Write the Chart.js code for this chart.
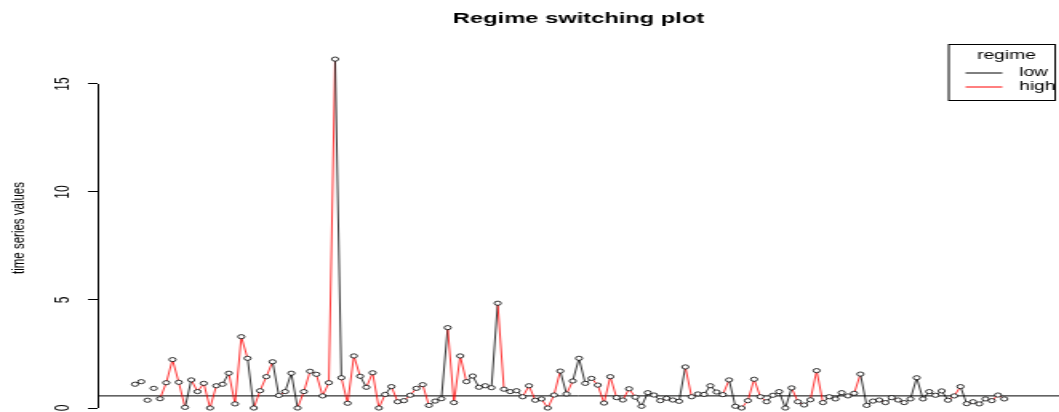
<!DOCTYPE html>
<html>
<head>
<meta charset="utf-8">
<script src="https://cdn.jsdelivr.net/npm/chart.js@4/dist/chart.umd.min.js"></script>
<style>
  html, body { margin: 0; padding: 0; background: #fff; overflow: hidden; }
  /* the plot is drawn on a narrower canvas and stretched horizontally */
  #wrap { width: 662px; height: 412px; transform: scaleX(1.6); transform-origin: 0 0; }
  canvas { display: block; }
</style>
</head>
<body>
<div id="wrap"><canvas id="c" width="662" height="412"></canvas></div>
<script>
// observed series (index 1..140)
const values = [
  1.10, 1.22, 0.36, 0.91, 0.43, 1.17, 2.24, 1.19, 0.03, 1.30,
  0.76, 1.14, 0.00, 1.03, 1.10, 1.61, 0.19, 3.30, 2.30, 0.00,
  0.80, 1.45, 2.14, 0.58, 0.76, 1.61, 0.00, 0.76, 1.70, 1.56,
  0.56, 1.17, 16.15, 1.40, 0.22, 2.41, 1.47, 0.96, 1.63, 0.00,
  0.63, 0.99, 0.29, 0.34, 0.59, 0.91, 1.08, 0.12, 0.32, 0.43,
  3.72, 0.25, 2.41, 1.22, 1.48, 0.96, 1.03, 0.94, 4.85, 0.87,
  0.76, 0.80, 0.52, 1.03, 0.36, 0.42, 0.00, 0.60, 1.71, 0.65,
  1.25, 2.30, 1.14, 1.37, 1.06, 0.23, 1.45, 0.48, 0.37, 0.89,
  0.50, 0.08, 0.71, 0.60, 0.34, 0.45, 0.37, 0.31, 1.90, 0.52,
  0.65, 0.63, 1.03, 0.74, 0.62, 1.30, 0.08, 0.00, 0.34, 1.33,
  0.52, 0.29, 0.59, 0.76, 0.00, 0.93, 0.29, 0.14, 0.38, 1.73,
  0.25, 0.52, 0.42, 0.71, 0.56, 0.68, 1.57, 0.12, 0.32, 0.37,
  0.25, 0.48, 0.37, 0.25, 0.42, 1.40, 0.42, 0.76, 0.59, 0.79,
  0.36, 0.56, 0.99, 0.20, 0.29, 0.19, 0.42, 0.34, 0.60, 0.42
];

// regime of the step that arrives at each observation (L = low, H = high, null = no step drawn)
const regime = [
  null, null, null, null, null, 'H', 'H', 'H', 'H', 'L',
  'H', 'H', 'H', 'H', 'H', 'L', 'H', 'H', 'H', 'L',
  'H', 'H', 'H', 'L', 'H', 'L', 'L', 'H', 'H', 'H',
  'H', 'H', 'H', 'L', 'H', 'H', 'H', 'L', 'H', 'H',
  'H', 'L', 'H', 'H', 'H', 'H', 'H', 'H', 'L', 'L',
  'L', 'H', 'H', 'H', 'L', 'L', 'L', 'H', 'L', 'H',
  'L', 'L', 'L', 'H', 'H', 'L', 'H', 'H', 'H', 'L',
  'H', 'L', 'L', 'L', 'H', 'H', 'H', 'H', 'L', 'H',
  'H', 'L', 'L', 'L', 'L', 'H', 'H', 'L', 'L', 'H',
  'H', 'L', 'L', 'L', 'L', 'H', 'L', 'L', 'H', 'H',
  'H', 'H', 'L', 'L', 'L', 'L', 'H', 'H', 'L', 'H',
  'H', 'L', 'L', 'L', 'L', 'H', 'H', 'L', 'L', 'L',
  'H', 'L', 'H', 'H', 'L', 'L', 'L', 'L', 'L', 'L',
  'L', 'H', 'H', 'L', 'H', 'L', 'L', 'H', 'H', 'H'
];

const regimeNames = ['low', 'high'];
const regimeColors = { L: '#000000', H: '#ff0000' };
const yTicks = [0, 5, 10, 15];
const refLevel = 0.56;

const FONT = "'Liberation Sans', Arial, Helvetica, sans-serif";
const xMin = -4.92, xMax = 148.78;
const yMin = -0.185, yMax = 16.85;

const points = values.map((v, i) => ({ x: i + 1, y: v }));

// y axis line spanning the first to the last tick, plus the boxed legend
const decor = {
  id: 'decor',
  afterDraw(chart) {
    const { ctx, chartArea } = chart;
    const y = chart.scales.y;
    ctx.save();
    ctx.strokeStyle = '#000';
    ctx.lineWidth = 1;
    ctx.beginPath();
    const ax = Math.round(chartArea.left) + 0.5;
    ctx.moveTo(ax, y.getPixelForValue(yTicks[0]));
    ctx.lineTo(ax, y.getPixelForValue(yTicks[yTicks.length - 1]));
    ctx.stroke();

    // legend
    const bx1 = chartArea.right - 2.5, bx0 = bx1 - 66.5;
    const by0 = chartArea.top + 0.5, by1 = by0 + 56;
    ctx.fillStyle = '#fff';
    ctx.fillRect(bx0, by0, bx1 - bx0, by1 - by0);
    ctx.strokeRect(bx0, by0, bx1 - bx0, by1 - by0);
    ctx.fillStyle = '#000';
    ctx.font = '12px ' + FONT;
    ctx.textBaseline = 'middle';
    ctx.textAlign = 'center';
    ctx.fillText('regime', bx0 + 36, by0 + 11);
    ctx.textAlign = 'left';
    const keys = ['L', 'H'];
    keys.forEach((k, i) => {
      const ly = by0 + 28.5 + i * 14;
      ctx.strokeStyle = regimeColors[k];
      ctx.beginPath();
      ctx.moveTo(bx0 + 10.5, ly);
      ctx.lineTo(bx0 + 33.5, ly);
      ctx.stroke();
      ctx.fillText(regimeNames[i], bx0 + 44, ly);
    });
    ctx.restore();
  }
};

new Chart(document.getElementById('c'), {
  type: 'line',
  data: {
    datasets: [
      {
        data: points,
        borderColor: '#000',
        borderWidth: 0.8,
        pointRadius: 2.1,
        pointBorderWidth: 0.8,
        pointBorderColor: '#000',
        pointBackgroundColor: '#fff',
        tension: 0,
        segment: {
          borderColor: ctx => {
            const r = regime[ctx.p1DataIndex];
            return r ? regimeColors[r] : 'rgba(0,0,0,0)';
          }
        }
      },
      {
        data: [{ x: xMin, y: refLevel }, { x: xMax, y: refLevel }],
        borderColor: '#000',
        borderWidth: 1,
        pointRadius: 0
      }
    ]
  },
  options: {
    responsive: false,
    animation: false,
    devicePixelRatio: 1,
    layout: { padding: 0, autoPadding: false },
    plugins: {
      legend: { display: false },
      tooltip: { enabled: false },
      title: {
        display: true,
        text: 'Regime switching plot',
        color: '#000',
        fullSize: false,
        font: { family: FONT, size: 14.8, weight: 'bold' },
        padding: { top: 10, bottom: 16.24 }
      }
    },
    scales: {
      x: { type: 'linear', display: false, min: xMin, max: xMax },
      y: {
        type: 'linear',
        position: 'left',
        min: yMin,
        max: yMax,
        afterBuildTicks: s => { s.ticks = yTicks.map(v => ({ value: v })); },
        afterFit: s => {
          s.width = 61.25;
          s.paddingTop = 0;
          s.paddingBottom = 0;
        },
        border: { display: false },
        grid: { drawOnChartArea: false, drawTicks: true, tickLength: 6.25, color: '#000', lineWidth: 1 },
        ticks: {
          color: '#000',
          font: { family: FONT, size: 12 },
          minRotation: 90,
          maxRotation: 90,
          crossAlign: 'center',
          padding: 8.3
        },
        title: {
          display: true,
          text: 'time series values',
          color: '#000',
          font: { family: FONT, size: 11.5 },
          padding: { top: 5, bottom: 0 }
        }
      }
    }
  },
  plugins: [decor]
});
</script>
</body>
</html>
